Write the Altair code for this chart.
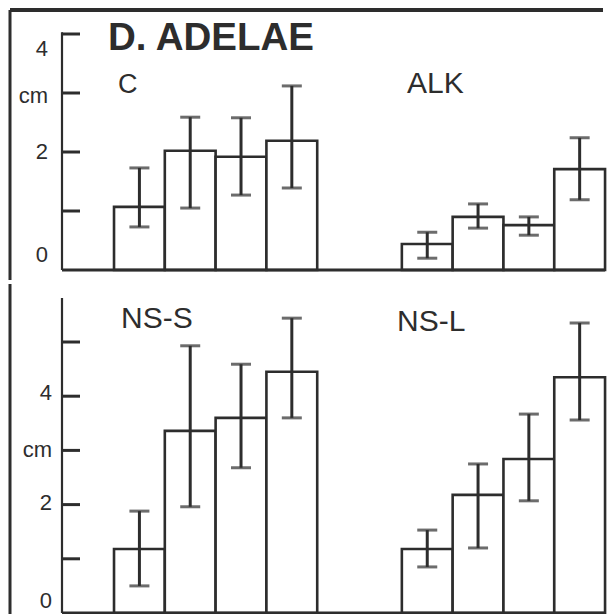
import altair as alt
import pandas as pd

# ---- data (cm) ----
top_groups = ["C", "ALK"]
c_mean = [1.07, 2.02, 1.92, 2.19]
c_lo = [0.73, 1.05, 1.27, 1.39]
c_hi = [1.73, 2.59, 2.58, 3.12]
alk_mean = [0.44, 0.90, 0.76, 1.71]
alk_lo = [0.20, 0.71, 0.59, 1.19]
alk_hi = [0.64, 1.12, 0.90, 2.24]

bottom_groups = ["NS-S", "NS-L"]
nss_mean = [1.18, 3.36, 3.60, 4.45]
nss_lo = [0.50, 1.96, 2.68, 3.60]
nss_hi = [1.88, 4.93, 4.59, 5.44]
nsl_mean = [1.18, 2.18, 2.84, 4.35]
nsl_lo = [0.85, 1.20, 2.07, 3.56]
nsl_hi = [1.53, 2.75, 3.67, 5.35]

top_ticks = [1, 2, 3, 4]
bottom_ticks = [1, 2, 3, 4, 5]
label_values = [0, 2, 3, 4]
label_texts = ["0", "2", "cm", "4"]
title_text = "D. ADELAE"

# ---- layout / style ----
INK = "#2d2d2d"
FONT = "Liberation Sans"
UNIT_W = 50.8
PLOT_W = 543
XMAX = PLOT_W / UNIT_W
GROUP_START = [1.024, 6.69]


def make_frame(names, means, los, his):
    rows = []
    for g, name in enumerate(names):
        for i in range(len(means[g])):
            x0 = GROUP_START[g] + i
            rows.append(dict(group=name, x0=x0, x1=x0 + 1, xm=x0 + 0.5,
                             mean=means[g][i], lo=los[g][i], hi=his[g][i]))
    return pd.DataFrame(rows)


one = pd.DataFrame({"k": [0]})


def panel(df, ymax, height, axis_top, ticks, label_x, label_dy, texts,
          border_y1, border_y2, top_border=False):
    xs = alt.Scale(domain=[0, XMAX], nice=False, zero=False)
    ys = alt.Scale(domain=[0, ymax], nice=False, zero=True)
    yaxis = alt.Axis(labels=False, ticks=False, domain=False, grid=False, title=None)
    base = alt.Chart(df)
    bars = base.mark_bar(fill="white", stroke=INK, strokeWidth=2.6).encode(
        x=alt.X("x0:Q", scale=xs, axis=None),
        x2="x1:Q",
        y=alt.Y("mean:Q", scale=ys, axis=yaxis),
        y2=alt.datum(0),
    )
    err = base.mark_rule(color=INK, strokeWidth=3).encode(
        x=alt.X("xm:Q", scale=xs, axis=None),
        y=alt.Y("lo:Q", scale=ys, axis=None),
        y2="hi:Q",
    )
    caps = base.transform_fold(["lo", "hi"], as_=["which", "yv"]).mark_tick(
        orient="horizontal", size=20, thickness=3, color=INK
    ).encode(
        x=alt.X("xm:Q", scale=xs, axis=None),
        y=alt.Y("yv:Q", scale=ys, axis=None),
    )
    baseline = alt.Chart(one).mark_rule(color=INK, strokeWidth=3).encode(
        y=alt.datum(0), x=alt.value(0), x2=alt.value(PLOT_W)
    )
    axisline = alt.Chart(one).mark_rule(color=INK, strokeWidth=2.2).encode(
        x=alt.value(0), y=alt.datum(0), y2=alt.datum(axis_top)
    )
    tick_marks = alt.Chart(pd.DataFrame({"t": ticks})).mark_rule(color=INK, strokeWidth=3).encode(
        y=alt.Y("t:Q", scale=ys, axis=None), x=alt.value(0), x2=alt.value(18)
    )
    left_border = alt.Chart(one).mark_rule(color=INK, strokeWidth=3).encode(
        x=alt.value(-52), y=alt.value(border_y1), y2=alt.value(border_y2)
    )
    layers = [bars, err, caps, baseline, axisline, tick_marks, left_border]
    if top_border:
        top_val = height and (ymax * (height - border_y1) / height)
        # frame line along the top, drawn through the panel's own scales
        layers.append(alt.Chart(one).mark_rule(color=INK, strokeWidth=4).encode(
            x=alt.datum(-52 / UNIT_W, scale=xs), x2=alt.datum(541 / UNIT_W),
            y=alt.datum(top_val, scale=ys)))
        # same line as a thin filled strip (backup rendering path)
        layers.append(alt.Chart(one).mark_rect(color=INK).encode(
            x=alt.value(-52), x2=alt.value(541),
            y=alt.value(border_y1 - 2), y2=alt.value(border_y1 + 2)))
    for v, s in zip(label_values, label_texts):
        bl, dy = label_dy[v]
        layers.append(alt.Chart(one).mark_text(
            text=s, align="right", baseline=bl, dy=dy, font=FONT, fontSize=22, color=INK
        ).encode(x=alt.value(label_x), y=alt.datum(v)))
    for (txt, px, py, size, weight) in texts:
        layers.append(alt.Chart(one).mark_text(
            text=txt, align="left", baseline="alphabetic", font=FONT,
            fontSize=size, fontWeight=weight, color=INK
        ).encode(x=alt.value(px), y=alt.value(py)))
    return alt.layer(*layers).properties(width=PLOT_W, height=height)


top_df = make_frame(top_groups, [c_mean, alk_mean], [c_lo, alk_lo], [c_hi, alk_hi])
bot_df = make_frame(bottom_groups, [nss_mean, nsl_mean], [nss_lo, nsl_lo], [nss_hi, nsl_hi])

top = panel(
    top_df, ymax=4, height=236, axis_top=4.03, ticks=top_ticks, label_x=-14,
    label_dy={0: ("bottom", -3), 2: ("middle", 0), 3: ("middle", 3), 4: ("top", 5)},
    texts=[(title_text, 46, 16, 38.5, "bold"), (top_groups[0], 56, 59, 27, "normal"),
           (top_groups[1], 345, 59, 30, "normal")],
    border_y1=-24, border_y2=246, top_border=True,
)
bottom = panel(
    bot_df, ymax=315 / 54.2, height=315, axis_top=315 / 54.2, ticks=bottom_ticks, label_x=-10,
    label_dy={0: ("bottom", 0), 2: ("middle", -2), 3: ("middle", 0), 4: ("middle", -3)},
    texts=[(bottom_groups[0], 59, 30, 30, "normal"), (bottom_groups[1], 335, 33, 30, "normal")],
    border_y1=-14, border_y2=330,
)

chart = alt.vconcat(top, bottom, spacing=0).properties(
    padding=0, background="white"
).configure_view(stroke=None)

chart.save("out.html", embed_options={"renderer": "svg", "actions": False})
